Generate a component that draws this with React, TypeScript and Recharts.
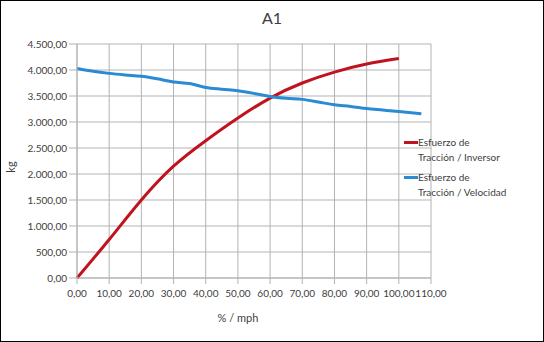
import { LineChart, Line, XAxis, YAxis, CartesianGrid, Legend } from 'recharts'

const inversorX = [0, 10, 20, 30, 40, 50, 60, 70, 80, 90, 100]
const inversorKg = [0, 740, 1500, 2150, 2640, 3075, 3460, 3750, 3960, 4115, 4220]

const velocidadX = [0, 5, 10, 15, 20, 25, 30, 35, 40, 45, 50, 55, 60, 65, 70, 75, 80, 85, 90, 95, 100, 107]
const velocidadKg = [
  4030, 3975, 3935, 3905, 3880, 3830, 3770, 3740, 3665, 3630, 3600, 3550, 3490, 3455, 3435, 3385, 3330,
  3300, 3260, 3230, 3200, 3160,
]

const xTicks = [0, 10, 20, 30, 40, 50, 60, 70, 80, 90, 100, 110]
const yTicks = [0, 500, 1000, 1500, 2000, 2500, 3000, 3500, 4000, 4500]

const seriesNames = ['Esfuerzo de Tracción / Inversor', 'Esfuerzo de Tracción / Velocidad']
const seriesColors = ['#c0131f', '#2a8bd2']

const inversorData = inversorX.map((x, i) => ({ x, kg: inversorKg[i] }))
const velocidadData = velocidadX.map((x, i) => ({ x, kg: velocidadKg[i] }))

const FONT = 'Lato, sans-serif'
const TEXT = '#404040'
const GRID = '#b3b3b3'

// 4500 -> "4.500,00"
function fmt(v: number): string {
  const [int, dec] = v.toFixed(2).split('.')
  return int.replace(/\B(?=(\d{3})+(?!\d))/g, '.') + ',' + dec
}

function LegendBox() {
  return (
    <div style={{ fontFamily: FONT, fontSize: 10, color: TEXT, lineHeight: '15px' }}>
      {seriesNames.map((name, i) => {
        const [a, b] = [name.slice(0, 11), name.slice(12)]
        return (
          <div key={name} style={{ position: 'relative', paddingLeft: 16, marginBottom: 5 }}>
            <span
              style={{
                position: 'absolute',
                left: 2,
                top: 6,
                width: 14,
                height: 3,
                background: seriesColors[i],
              }}
            />
            <div>{a}</div>
            <div>{b}</div>
          </div>
        )
      })}
    </div>
  )
}

export default function App() {
  return (
    <div
      style={{
        position: 'absolute',
        left: 0,
        top: 0,
        width: 542,
        height: 340,
        border: '1px solid #000',
        background: '#fff',
      }}
    >
      <div
        style={{
          position: 'absolute',
          top: 7,
          width: '100%',
          textAlign: 'center',
          fontFamily: FONT,
          fontSize: 16,
          color: TEXT,
        }}
      >
        A1
      </div>
      <LineChart width={542} height={340} margin={{ top: 43, right: 112, left: -1, bottom: 33 }}>
        <CartesianGrid stroke={GRID} strokeWidth={1} horizontal vertical />
        <XAxis
          type="number"
          dataKey="x"
          domain={[0, 110]}
          ticks={xTicks}
          interval={0}
          tickFormatter={fmt}
          height={30}
          stroke={GRID}
          tickSize={6}
          tickMargin={6}
          tick={{ fontSize: 10, fill: TEXT, fontFamily: FONT }}
          label={{
            value: '% / mph',
            position: 'bottom',
            offset: 6,
            dx: -16,
            style: { fontSize: 11, fill: TEXT, fontFamily: FONT },
          }}
        />
        <YAxis
          type="number"
          domain={[0, 4500]}
          ticks={yTicks}
          interval={0}
          tickFormatter={fmt}
          width={77}
          stroke={GRID}
          tickSize={8}
          tickMargin={2}
          tick={{ fontSize: 10, fill: TEXT, fontFamily: FONT }}
          label={{
            value: 'kg',
            angle: -90,
            position: 'insideLeft',
            offset: 11,
            dy: 6,
            style: { fontSize: 11, fill: TEXT, fontFamily: FONT, textAnchor: 'middle' },
          }}
        />
        <Legend
          layout="vertical"
          align="center"
          verticalAlign="middle"
          wrapperStyle={{ left: 401, top: 134, width: 140 }}
          content={() => <LegendBox />}
        />
        <Line
          data={inversorData}
          dataKey="kg"
          name={seriesNames[0]}
          type="natural"
          stroke={seriesColors[0]}
          strokeWidth={3}
          dot={false}
          isAnimationActive={false}
        />
        <Line
          data={velocidadData}
          dataKey="kg"
          name={seriesNames[1]}
          type="monotone"
          stroke={seriesColors[1]}
          strokeWidth={3}
          dot={false}
          isAnimationActive={false}
        />
      </LineChart>
    </div>
  )
}
